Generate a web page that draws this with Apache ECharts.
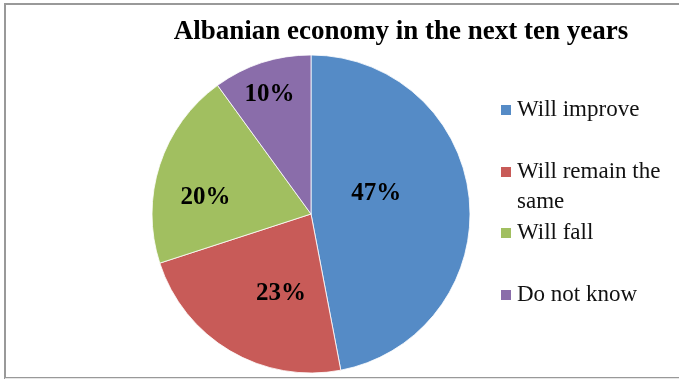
<!DOCTYPE html>
<html>
<head>
<meta charset="utf-8">
<script src="https://cdn.jsdelivr.net/npm/echarts@6/dist/echarts.min.js"></script>
<style>
  html, body { margin: 0; padding: 0; background: #fff; }
  #chart { width: 679px; height: 380px; }
</style>
</head>
<body>
<div id="chart"></div>
<script>
// Survey answers: outlook for the Albanian economy over the next ten years
const categories = ['Will improve', 'Will remain the same', 'Will fall', 'Do not know'];
const shares = [47, 23, 20, 10];
const sliceColors = ['#558BC6', '#C85B58', '#A1BF60', '#8A6DAA'];

// Nudges that move each percentage label to its spot inside the slice
const labelOffsets = [[-17, -13], [12, 9], [-27, 9], [-16, -41]];

// Vertical centre of each legend row
const legendRows = [110, 172, 233, 295];

const serif = '"Liberation Serif", "Times New Roman", serif';
const legendFont = { fontFamily: serif, fontSize: 23, lineHeight: 30, color: '#111' };

const chart = echarts.init(document.getElementById('chart'), null, { renderer: 'canvas' });

// One legend block per row; the long entry wraps below its marker
const legends = categories.map((name, i) => {
  const wrapped = name === 'Will remain the same';
  return {
    data: [name],
    orient: 'vertical',
    left: 499,
    top: wrapped ? legendRows[i] - 45 : legendRows[i] - 15,
    padding: 0,
    icon: 'rect',
    itemWidth: 12,
    itemHeight: 12,
    itemGap: 0,
    selectedMode: false,
    formatter: wrapped ? '{t| }\n{t|Will remain the}\n{t|same}' : '{t|{name}}',
    textStyle: Object.assign({ rich: { t: legendFont } }, legendFont)
  };
});

chart.setOption({
  backgroundColor: '#fff',
  animation: false,
  title: {
    text: 'Albanian economy in the next ten years',
    left: 396,
    top: 14,
    textAlign: 'center',
    textStyle: {
      fontFamily: serif,
      fontWeight: 'bold',
      fontSize: 27,
      color: '#000'
    }
  },
  legend: legends,
  graphic: [{
    type: 'rect',
    shape: { x: 5, y: 4, width: 720, height: 374 },
    style: { fill: 'none', stroke: '#999', lineWidth: 2 },
    silent: true
  }, {
    type: 'line',
    shape: { x1: 5, y1: 378.5, x2: 679, y2: 378.5 },
    style: { stroke: '#e6e6e6', lineWidth: 1 },
    silent: true
  }],
  series: [{
    type: 'pie',
    center: [311, 214],
    radius: [0, 159],
    startAngle: 90,
    clockwise: true,
    avoidLabelOverlap: false,
    itemStyle: { borderColor: '#fff', borderWidth: 0.8 },
    label: {
      show: true,
      position: 'inside',
      formatter: '{c}%',
      fontFamily: serif,
      fontWeight: 'bold',
      fontSize: 25,
      color: '#000'
    },
    labelLine: { show: false },
    emphasis: { disabled: true },
    data: categories.map((name, i) => ({
      name: name,
      value: shares[i],
      itemStyle: { color: sliceColors[i] },
      label: { offset: labelOffsets[i] }
    }))
  }]
});
</script>
</body>
</html>
